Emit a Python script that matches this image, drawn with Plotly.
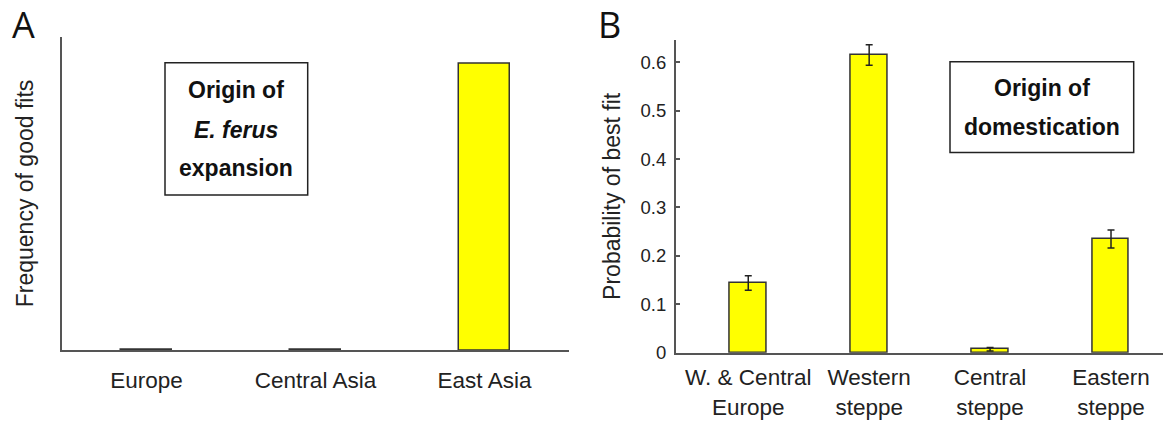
import plotly.graph_objects as go

W, H = 1163, 423

# Panel A: origin of E. ferus expansion
regions_a = ["Europe", "Central Asia", "East Asia"]
freq_good_fits = [0.001, 0.003, 0.997]

# Panel B: origin of domestication
regions_b = ["W. & Central<br>Europe", "Western<br>steppe", "Central<br>steppe", "Eastern<br>steppe"]
prob_best_fit = [0.144, 0.615, 0.007, 0.235]
prob_err = [0.015, 0.021, 0.0035, 0.0185]
ticks_b = [0, 0.1, 0.2, 0.3, 0.4, 0.5, 0.6]

FONT = "Arial, Liberation Sans, sans-serif"
YELLOW = "#FFFF00"
EDGE = "#333333"
AXIS = "#555555"


def px_x(p):
    return p / W


def px_y(p):
    return 1 - p / H


fig = go.Figure()

fig.add_trace(go.Bar(
    x=[1, 2, 3], y=freq_good_fits, width=0.3,
    marker=dict(color=YELLOW, line=dict(color=EDGE, width=1.5)),
    xaxis="x", yaxis="y", showlegend=False,
))

fig.add_trace(go.Bar(
    x=[1, 2, 3, 4], y=prob_best_fit, width=0.3,
    marker=dict(color=YELLOW, line=dict(color=EDGE, width=1.5)),
    error_y=dict(type="data", array=prob_err, color="#222222", thickness=1.5, width=3.5),
    xaxis="x2", yaxis="y2", showlegend=False,
))

axis_common = dict(showline=True, linecolor=AXIS, linewidth=1.5, showgrid=False,
                   zeroline=False, mirror=False, automargin=False)

fig.update_layout(
    template="none",
    width=W, height=H,
    margin=dict(l=0, r=0, t=0, b=0, pad=0),
    paper_bgcolor="white", plot_bgcolor="white",
    font=dict(family=FONT, color="#222222"),
    bargap=0,
    xaxis=dict(domain=[px_x(62), px_x(569)], range=[0.5, 3.5],
               tickvals=[1, 2, 3], ticktext=regions_a, ticks="",
               tickfont=dict(size=22.5), ticklabelstandoff=9,
               anchor="y", **axis_common),
    yaxis=dict(domain=[px_y(350.3), px_y(36.7)], range=[0, 1.09],
               showticklabels=False, ticks="", anchor="x",
               title=dict(text="Frequency of good fits", font=dict(size=23), standoff=20),
               **axis_common),
    xaxis2=dict(domain=[px_x(675.7), 1.0], range=[0.4, 4.43],
                tickvals=[1, 2, 3, 4], ticktext=regions_b, ticks="",
                tickfont=dict(size=22.5), ticklabelstandoff=4,
                anchor="y2", **axis_common),
    yaxis2=dict(domain=[px_y(352.7), px_y(40)], range=[0, 0.646],
                tickvals=ticks_b, ticktext=[f"{t:g}" for t in ticks_b],
                ticks="inside", ticklen=5, tickwidth=1.5, tickcolor=AXIS,
                tickfont=dict(size=18.5), ticklabelstandoff=4,
                title=dict(text="Probability of best fit", font=dict(size=23), standoff=13),
                anchor="x2", **axis_common),
)

# Labelled text boxes
boxes = [
    (165, 62.7, 307.7, 195),
    (950, 61.7, 1133.7, 152.5),
]
for x0, y0, x1, y1 in boxes:
    fig.add_shape(type="rect", xref="paper", yref="paper",
                  x0=px_x(x0), x1=px_x(x1), y0=px_y(y1), y1=px_y(y0),
                  line=dict(color="#222222", width=1.5), fillcolor="white", layer="above")

box_lines = [
    (236, 90, "<b>Origin of</b>"),
    (236, 130, "<b><i>E. ferus</i></b>"),
    (236, 168, "<b>expansion</b>"),
    (1042, 88, "<b>Origin of</b>"),
    (1042, 127, "<b>domestication</b>"),
]
for cx, cy, txt in box_lines:
    fig.add_annotation(text=txt, xref="paper", yref="paper", x=px_x(cx), y=px_y(cy),
                       xanchor="center", yanchor="middle", showarrow=False,
                       font=dict(size=23, family=FONT, color="#111111"))

# Panel letters
for cx, txt in [(23.5, "A"), (610, "B")]:
    fig.add_annotation(text=txt, xref="paper", yref="paper", x=px_x(cx), y=px_y(25),
                       xanchor="center", yanchor="middle", showarrow=False,
                       font=dict(size=36, family="Open Sans, sans-serif", color="#111111"))

fig.write_html("out.html")
